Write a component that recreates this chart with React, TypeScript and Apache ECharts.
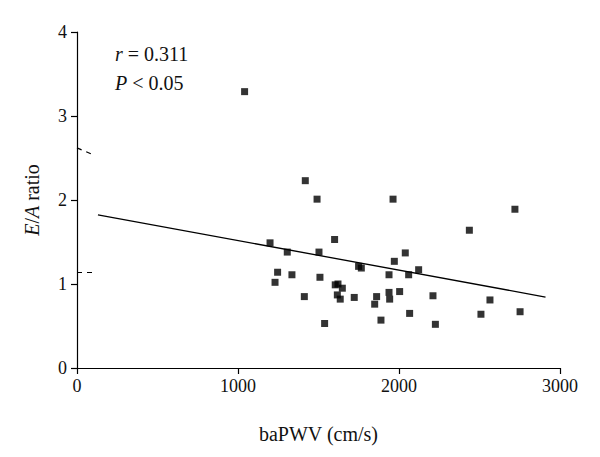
import React, { useEffect, useRef } from "react";
import * as echarts from "echarts";

const xTicks = [0, 1000, 2000, 3000];
const yTicks = [0, 1, 2, 3, 4];

const pwv = [
  1041, 1418, 1491, 1963, 1199, 1600, 1306, 1503, 1971, 1749, 1766, 1246, 1335,
  1938, 1230, 1509, 1604, 1621, 1648, 1617, 1635, 1412, 1722, 1861, 1938, 1942,
  1849, 1538, 1888, 2720, 2437, 2039, 2122, 2060, 2004, 2211, 2565, 2066, 2509,
  2752, 2226,
];
const eaRatio = [
  3.29, 2.23, 2.01, 2.01, 1.49, 1.53, 1.38, 1.38, 1.27, 1.21, 1.19, 1.14, 1.11,
  1.11, 1.02, 1.08, 0.99, 1.0, 0.95, 0.87, 0.82, 0.85, 0.84, 0.85, 0.9, 0.82,
  0.76, 0.53, 0.57, 1.89, 1.64, 1.37, 1.17, 1.11, 0.91, 0.86, 0.81, 0.65, 0.64,
  0.67, 0.52,
];

const regX = [130, 2910];
const regY = [1.823, 0.845];

const dashAX = [0, 105];
const dashAY = [2.62, 2.535];
const dashBX = [0, 105];
const dashBY = [1.137, 1.137];

const FONT = "Liberation Serif";

export default function App() {
  const ref = useRef<HTMLDivElement>(null);
  useEffect(() => {
    if (!ref.current) return;
    const chart = echarts.init(ref.current, null, { renderer: "svg" });
    const pts = pwv.map((x, i) => [x, eaRatio[i]]);
    const pair = (xs: number[], ys: number[]) => xs.map((x, i) => [x, ys[i]]);
    chart.setOption({
      animation: false,
      backgroundColor: "#ffffff",
      textStyle: { fontFamily: FONT },
      grid: { left: 77, right: 40, top: 32, bottom: 89, containLabel: false },
      xAxis: {
        type: "value",
        min: xTicks[0],
        max: xTicks[xTicks.length - 1],
        interval: 1000,
        name: "baPWV (cm/s)",
        nameLocation: "middle",
        nameGap: 56,
        nameTextStyle: { fontFamily: FONT, fontSize: 20, color: "#111" },
        axisLine: { show: true, lineStyle: { color: "#000", width: 1.2 } },
        axisTick: { show: true, length: 6, lineStyle: { color: "#000", width: 1.2 } },
        axisLabel: {
          fontFamily: FONT,
          fontSize: 18,
          color: "#111",
          margin: 9,
          formatter: (v: number) => String(v),
        },
        splitLine: { show: false },
      },
      yAxis: {
        type: "value",
        min: yTicks[0],
        max: yTicks[yTicks.length - 1],
        interval: 1,
        name: "{i|E}/{i|A} ratio",
        nameLocation: "middle",
        nameGap: 35,
        nameRotate: 90,
        nameTextStyle: {
          fontFamily: FONT,
          fontSize: 20,
          color: "#111",
          rich: {
            i: { fontFamily: FONT, fontSize: 20, fontStyle: "italic", color: "#111" },
          },
        },
        axisLine: { show: true, lineStyle: { color: "#000", width: 1.2 } },
        axisTick: { show: true, length: 6, lineStyle: { color: "#000", width: 1.2 } },
        axisLabel: {
          fontFamily: FONT,
          fontSize: 18,
          color: "#111",
          margin: 10,
          formatter: (v: number) => String(v),
        },
        splitLine: { show: false },
      },
      series: [
        {
          type: "scatter",
          data: pts,
          symbol: "rect",
          symbolSize: 7,
          itemStyle: { color: "#000" },
          z: 3,
        },
        {
          type: "line",
          data: pair(regX, regY),
          symbol: "none",
          lineStyle: { color: "#000", width: 1.3 },
          z: 2,
        },
        {
          type: "line",
          data: pair(dashAX, dashAY),
          symbol: "none",
          lineStyle: { color: "#000", width: 1.2, type: [5, 5] },
        },
        {
          type: "line",
          data: pair(dashBX, dashBY),
          symbol: "none",
          lineStyle: { color: "#000", width: 1.2, type: [5, 5] },
        },
      ],
      graphic: [
        {
          type: "text",
          left: 115,
          top: 44,
          style: {
            text: "{i|r} = 0.311",
            fontFamily: FONT,
            fontSize: 20,
            fill: "#111",
            rich: { i: { fontStyle: "italic", fontFamily: FONT, fontSize: 20 } },
          },
        },
        {
          type: "text",
          left: 115,
          top: 73,
          style: {
            text: "{i|P} < 0.05",
            fontFamily: FONT,
            fontSize: 20,
            fill: "#111",
            rich: { i: { fontStyle: "italic", fontFamily: FONT, fontSize: 20 } },
          },
        },
      ],
    });
    return () => chart.dispose();
  }, []);
  return (
    <div
      ref={ref}
      style={{ position: "fixed", left: 0, top: 0, width: 600, height: 457 }}
    />
  );
}
